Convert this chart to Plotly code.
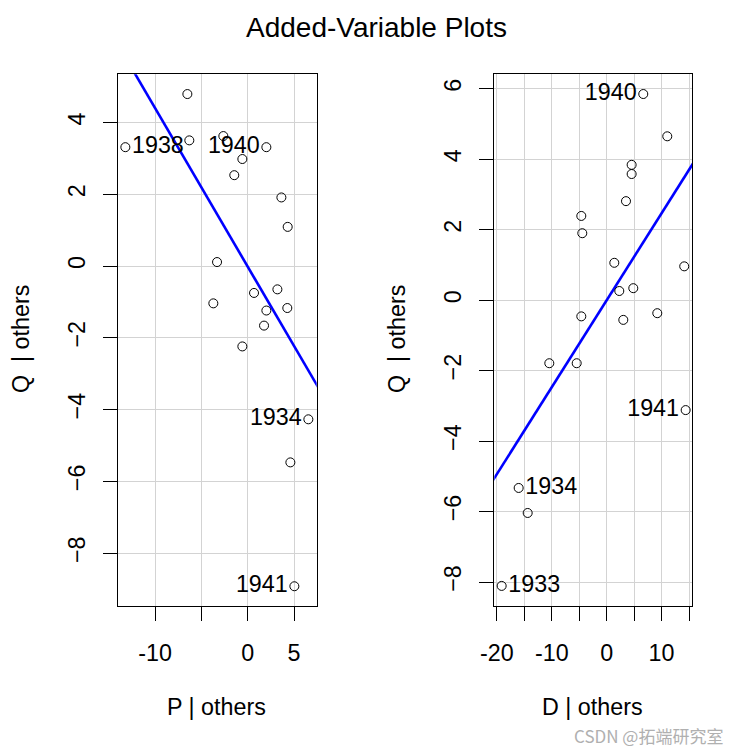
import numpy as np
import plotly.graph_objects as go

# ---- data ----
p_resid = [-6.51, -13.2, -6.30, -2.63, 2.01, -0.58, -1.45, 3.63, 4.31, -3.31,
           0.68, 3.20, -3.71, 2.01, 4.27, 1.76, -0.58, 6.54, 4.60, 5.03]
q_resid_p = [4.79, 3.31, 3.50, 3.62, 3.31, 2.98, 2.53, 1.91, 1.09, 0.11,
             -0.75, -0.65, -1.04, -1.24, -1.17, -1.66, -2.24, -4.27, -5.47, -8.92]
p_labels = ["", "1938", "", "", "1940", "", "", "", "", "",
            "", "", "", "", "", "", "", "1934", "", "1941"]
p_label_side = ["middle right"] * 20
for i in (4, 17, 19):
    p_label_side[i] = "middle left"

d_resid = [6.67, 11.04, 4.55, 4.55, 3.52, -4.62, -4.44, 1.39, 14.13, 2.30,
           4.85, -4.62, 3.03, 9.22, -10.45, -5.46, 14.39, -16.03, -14.39, -19.13]
q_resid_d = [5.85, 4.65, 3.84, 3.58, 2.81, 2.39, 1.90, 1.06, 0.96, 0.26,
             0.34, -0.46, -0.56, -0.37, -1.79, -1.79, -3.12, -5.33, -6.04, -8.11]
d_labels = ["1940", "", "", "", "", "", "", "", "", "",
            "", "", "", "", "", "", "1941", "1934", "", "1933"]
d_label_side = ["middle left"] * 20
for i in (17, 19):
    d_label_side[i] = "middle right"

left_xticks = [-10, -5, 0, 5]
left_xticktext = ["-10", "", "0", "5"]
left_yticks = [-8, -6, -4, -2, 0, 2, 4]
right_xticks = [-20, -15, -10, -5, 0, 5, 10, 15]
right_xticktext = ["-20", "", "-10", "", "0", "", "10", ""]
right_yticks = [-8, -6, -4, -2, 0, 2, 4, 6]

left_xrange = [-13.96, 7.44]
left_yrange = [-9.47, 5.34]
right_xrange = [-20.47, 15.6]
right_yrange = [-8.68, 6.41]

FONT = "Liberation Sans, Arial, sans-serif"
FS = 23.3
OFF = 8            # page body margin
W = H = 753 - OFF  # figure size so that the figure ends at the window edge


def px(x):
    return (x - OFF) / W


def py(y):
    return 1 - (y - OFF) / H


def fit_line(x, y, xr):
    b, a = np.polyfit(x, y, 1)
    xs = np.array([xr[0] - 5, xr[1] + 5])
    return xs, a + b * xs


fig = go.Figure()

for (xs, ys, labs, side, xr, xa, ya) in [
    (p_resid, q_resid_p, p_labels, p_label_side, left_xrange, "x", "y"),
    (d_resid, q_resid_d, d_labels, d_label_side, right_xrange, "x2", "y2"),
]:
    lx, ly = fit_line(xs, ys, xr)
    fig.add_trace(go.Scatter(x=lx, y=ly, mode="lines",
                             line=dict(color="#0000FF", width=2.6),
                             xaxis=xa, yaxis=ya, showlegend=False,
                             hoverinfo="skip"))
    fig.add_trace(go.Scatter(x=xs, y=ys, mode="markers+text",
                             text=labs, textposition=side,
                             textfont=dict(family=FONT, size=FS, color="black"),
                             marker=dict(symbol="circle-open", size=9,
                                         color="black", line=dict(width=1, color="black")),
                             xaxis=xa, yaxis=ya, showlegend=False, cliponaxis=False))

ydom = [py(606), py(74.3)]
common = dict(showline=True, linecolor="black", linewidth=1, mirror=True,
              ticks="outside", ticklen=14, tickcolor="black", tickwidth=1,
              showgrid=True, gridcolor="#D3D3D3", gridwidth=1, zeroline=False,
              automargin=False,
              tickfont=dict(family=FONT, size=FS, color="black"))


def ann(text, x, y, size=FS, angle=0, color="black", family=FONT):
    return dict(text=text, x=px(x), y=py(y), xref="paper", yref="paper",
                xanchor="center", yanchor="middle", showarrow=False,
                textangle=angle, font=dict(family=family, size=size, color=color))


fig.update_layout(
    template="none",
    width=W, height=H,
    margin=dict(l=0, r=0, t=0, b=0, autoexpand=False),
    paper_bgcolor="white", plot_bgcolor="white",
    xaxis=dict(domain=[px(118.3), px(316.7)], range=left_xrange,
               tickvals=left_xticks, ticktext=left_xticktext,
               ticklabelstandoff=12, anchor="y", **common),
    yaxis=dict(domain=ydom, range=left_yrange, tickvals=left_yticks,
               tickangle=-90, ticklabelstandoff=9, anchor="x", **common),
    xaxis2=dict(domain=[px(494.3), px(692.3)], range=right_xrange,
                tickvals=right_xticks, ticktext=right_xticktext,
                ticklabelstandoff=12, anchor="y2", **common),
    yaxis2=dict(domain=ydom, range=right_yrange, tickvals=right_yticks,
                tickangle=-90, ticklabelstandoff=9, anchor="x2", **common),
    annotations=[
        ann("Added-Variable Plots", 376, 28, size=28),
        ann("P | others", 216.5, 707),
        ann("D | others", 592.5, 707),
        ann("Q  | others", 21, 339, angle=-90),
        ann("Q  | others", 397, 339, angle=-90),
        ann("CSDN @拓端研究室", 648, 735, size=17, color="#B0B0B0",
            family="Noto Sans CJK SC, sans-serif"),
    ],
)

fig.write_html("out.html")
